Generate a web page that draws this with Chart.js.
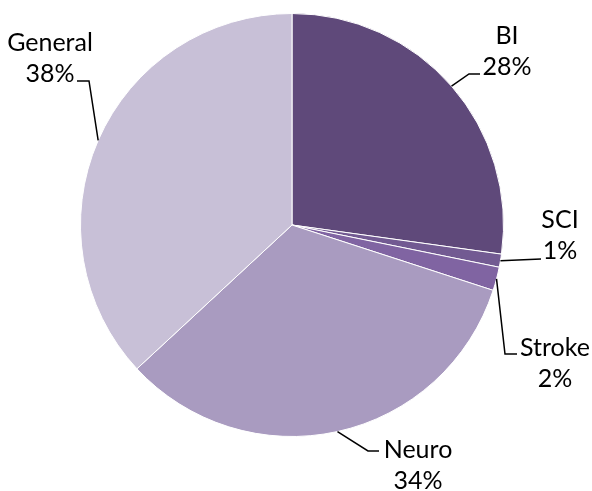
<!DOCTYPE html>
<html lang="en">
<head>
    <meta charset="UTF-8">
    <title>Referrals by group</title>
    <script src="https://cdn.jsdelivr.net/npm/chart.js"></script>
    <style>
        html, body { margin: 0; padding: 0; background: #fff; }
        #wrap { width: 592px; height: 491px; }
    </style>
</head>
<body>
    <div id="wrap"><canvas id="pie"></canvas></div>

    <script>
        // values
        const groups = ['BI', 'SCI', 'Stroke', 'Neuro', 'General'];
        const shares = [27.2, 1.0, 1.8, 33.1, 36.9];
        const shownPct = ['28%', '1%', '2%', '34%', '38%'];
        const sliceColors = ['#5f497a', '#725a92', '#8064a2', '#a99bc0', '#c8c0d7'];

        // where each label sits: elbow of the leader, end of the leader, centre of text
        const labelSpots = [
            { elbow: [469, 74], end: [480, 74], text: [507, 36] },
            { elbow: [541, 259], end: [541, 259], text: [560, 220] },
            { elbow: [505, 354], end: [517, 354], text: [555, 348] },
            { elbow: [368, 451], end: [379, 451], text: [418, 450] },
            { elbow: [89, 81], end: [77, 81], text: [50, 43] }
        ];

        const leaderLabels = {
            id: 'leaderLabels',
            afterDatasetsDraw(chart) {
                const ctx = chart.ctx;
                const arcs = chart.getDatasetMeta(0).data;
                ctx.save();
                ctx.strokeStyle = '#000';
                ctx.lineWidth = 1.5;
                ctx.fillStyle = '#000';
                ctx.font = '25px Lato';
                ctx.textAlign = 'center';
                ctx.textBaseline = 'middle';
                arcs.forEach((arc, i) => {
                    const mid = (arc.startAngle + arc.endAngle) / 2;
                    const r = arc.outerRadius;
                    const sx = arc.x + r * Math.cos(mid);
                    const sy = arc.y + r * Math.sin(mid);
                    const spot = labelSpots[i];
                    ctx.beginPath();
                    ctx.moveTo(sx, sy);
                    ctx.lineTo(spot.elbow[0], spot.elbow[1]);
                    ctx.lineTo(spot.end[0], spot.end[1]);
                    ctx.stroke();
                    ctx.fillText(groups[i], spot.text[0], spot.text[1]);
                    ctx.fillText(shownPct[i], spot.text[0], spot.text[1] + 31);
                });
                ctx.restore();
            }
        };

        new Chart(document.getElementById('pie'), {
            type: 'pie',
            data: {
                labels: groups,
                datasets: [{
                    data: shares,
                    backgroundColor: sliceColors,
                    borderColor: '#ffffff',
                    borderWidth: 1
                }]
            },
            options: {
                responsive: true,
                maintainAspectRatio: false,
                animation: false,
                layout: { padding: { top: 13, bottom: 54, left: 80, right: 88 } },
                plugins: {
                    legend: { display: false },
                    tooltip: { enabled: false }
                }
            },
            plugins: [leaderLabels]
        });
    </script>
</body>
</html>
